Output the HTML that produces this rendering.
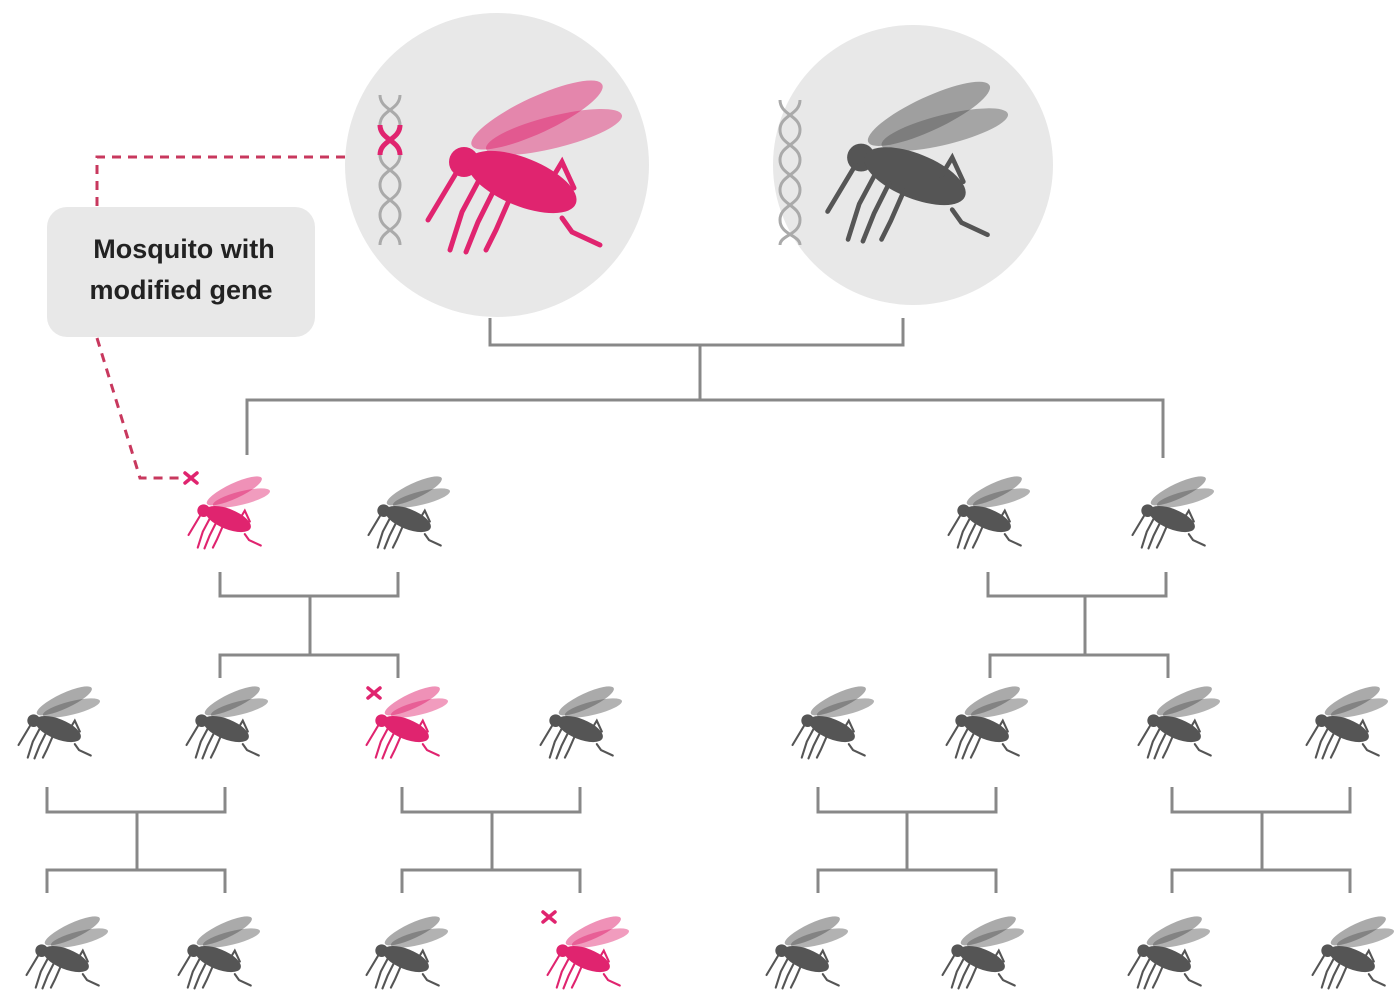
<!DOCTYPE html>
<html><head><meta charset="utf-8"><style>
body{margin:0;background:#fff;width:1400px;height:1006px;overflow:hidden}
svg{display:block}
text{font-family:"Liberation Sans",sans-serif}
</style></head><body>
<svg width="1400" height="1006" viewBox="0 0 1400 1006" xmlns="http://www.w3.org/2000/svg">
<defs>
<g id="mq">
 <ellipse cx="115" cy="45" rx="72" ry="18" transform="rotate(-25 115 45)" fill-opacity="0.5" stroke="none"/>
 <ellipse cx="132" cy="62" rx="70" ry="16" transform="rotate(-14 132 62)" fill-opacity="0.45" stroke="none"/>
 <circle cx="42" cy="92" r="15" stroke="none"/>
 <ellipse cx="100" cy="112" rx="58" ry="24" transform="rotate(22 100 112)" stroke="none"/>
 <g stroke-width="5" fill="none" stroke-linecap="round">
  <line x1="36" y1="100" x2="6" y2="150"/>
  <polyline points="56,112 40,142 28,180"/>
  <polyline points="72,120 56,152 44,182"/>
  <polyline points="88,128 74,160 64,180"/>
  <polyline points="140,148 150,162 178,175"/>
  <polyline points="128,112 140,92 152,118"/>
 </g>
</g>
</defs>

<circle cx="497" cy="165" r="152" fill="#e8e8e8"/>
<circle cx="913" cy="165" r="140" fill="#e8e8e8"/>

<g fill="none" stroke="#aaa" stroke-width="3">
 <path d="M380,95 C380,110 400,110 400,125 M400,95 C400,110 380,110 380,125"/>
 <path d="M380,185 C380,200 400,200 400,215 C400,230 380,230 380,245 M400,185 C400,200 380,200 380,215 C380,230 400,230 400,245"/>
 <path d="M380,155 C380,170 400,170 400,185 M400,155 C400,170 380,170 380,185"/>
 <path d="M780,100 C780,115 800,115 800,130 C800,145 780,145 780,160 C780,175 800,175 800,190 C800,205 780,205 780,220 C780,235 800,235 800,245 M800,100 C800,115 780,115 780,130 C780,145 800,145 800,160 C800,175 780,175 780,190 C780,205 800,205 800,220 C800,235 780,235 780,245"/>
</g>
<path d="M380,125 C380,140 400,140 400,155 M400,125 C400,140 380,140 380,155" fill="none" stroke="#e0246f" stroke-width="5"/>

<g transform="translate(422,70)" fill="#e0246f" stroke="#e0246f"><use href="#mq"/></g>
<g transform="translate(822,72) scale(0.93)" fill="#555" stroke="#555"><use href="#mq"/></g>

<g fill="none" stroke="#c8385e" stroke-width="3" stroke-dasharray="9,7">
 <polyline points="345,157 97,157 97,207"/>
 <polyline points="97,338 140,478 182,478"/>
</g>
<rect x="47" y="207" width="268" height="130" rx="20" fill="#e8e8e8"/>
<text x="184" y="258" font-size="27" font-weight="bold" text-anchor="middle" fill="#222">Mosquito with</text>
<text x="181" y="299" font-size="27" font-weight="bold" text-anchor="middle" fill="#222">modified gene</text>

<g fill="none" stroke="#888" stroke-width="3">
 <polyline points="490,318 490,345 903,345 903,318"/><line x1="700" y1="345" x2="700" y2="400"/>
 <polyline points="247,455 247,400 1163,400 1163,458"/>
 <polyline points="220,572 220,596 398,596 398,572"/><line x1="310" y1="596" x2="310" y2="655"/>
 <polyline points="220,678 220,655 398,655 398,678"/>
 <polyline points="988,572 988,596 1166,596 1166,572"/><line x1="1085" y1="596" x2="1085" y2="655"/>
 <polyline points="990,678 990,655 1168,655 1168,678"/>
 <polyline points="47,787 47,812 225,812 225,787"/><line x1="137" y1="812" x2="137" y2="870"/><polyline points="47,893 47,870 225,870 225,893"/>
 <polyline points="402,787 402,812 580,812 580,787"/><line x1="492" y1="812" x2="492" y2="870"/><polyline points="402,893 402,870 580,870 580,893"/>
 <polyline points="818,787 818,812 996,812 996,787"/><line x1="907" y1="812" x2="907" y2="870"/><polyline points="818,893 818,870 996,870 996,893"/>
 <polyline points="1172,787 1172,812 1350,812 1350,787"/><line x1="1262" y1="812" x2="1262" y2="870"/><polyline points="1172,893 1172,870 1350,870 1350,893"/>
</g>

<g fill="#e0246f" stroke="#e0246f">
 <use href="#mq" transform="translate(186,472) scale(0.42)"/>
 <use href="#mq" transform="translate(364,682) scale(0.42)"/>
 <use href="#mq" transform="translate(545,912) scale(0.42)"/>
</g>
<g fill="#555" stroke="#555">
 <use href="#mq" transform="translate(366,472) scale(0.42)"/>
 <use href="#mq" transform="translate(946,472) scale(0.42)"/>
 <use href="#mq" transform="translate(1130,472) scale(0.42)"/>
 <use href="#mq" transform="translate(16,682) scale(0.42)"/>
 <use href="#mq" transform="translate(184,682) scale(0.42)"/>
 <use href="#mq" transform="translate(538,682) scale(0.42)"/>
 <use href="#mq" transform="translate(790,682) scale(0.42)"/>
 <use href="#mq" transform="translate(944,682) scale(0.42)"/>
 <use href="#mq" transform="translate(1136,682) scale(0.42)"/>
 <use href="#mq" transform="translate(1304,682) scale(0.42)"/>
 <use href="#mq" transform="translate(24,912) scale(0.42)"/>
 <use href="#mq" transform="translate(176,912) scale(0.42)"/>
 <use href="#mq" transform="translate(364,912) scale(0.42)"/>
 <use href="#mq" transform="translate(764,912) scale(0.42)"/>
 <use href="#mq" transform="translate(940,912) scale(0.42)"/>
 <use href="#mq" transform="translate(1126,912) scale(0.42)"/>
 <use href="#mq" transform="translate(1310,912) scale(0.42)"/>
</g>
<g stroke="#e0246f" stroke-width="3.5" stroke-linecap="round">
 <path d="M185,473 l12,10 M197,473 l-12,10"/>
 <path d="M368,688 l12,10 M380,688 l-12,10"/>
 <path d="M543,912 l12,10 M555,912 l-12,10"/>
</g>
</svg>
</body></html>
